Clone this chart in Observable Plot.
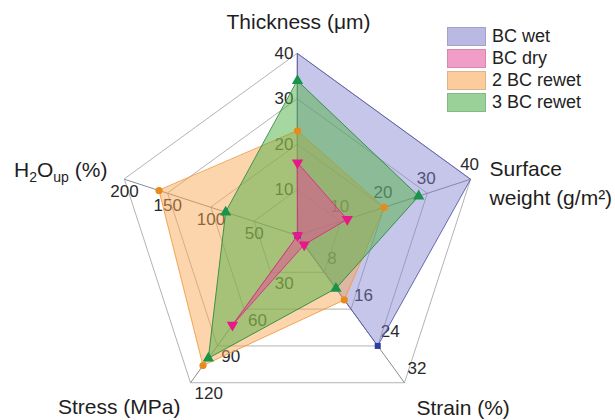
<!DOCTYPE html>
<html>
<head>
<meta charset="utf-8">
<script src="https://cdn.jsdelivr.net/npm/d3@7"></script>
<script src="https://cdn.jsdelivr.net/npm/@observablehq/plot@0.6"></script>
<style>
  body { margin: 0; background: #fff; font-family: "Liberation Sans", Arial, sans-serif; }
  #chart { position: relative; width: 615px; height: 420px; overflow: hidden; }
  .legend { position: absolute; left: 447px; top: 25px; font-size: 18px; color: #222; }
  .legend .row { display: flex; align-items: center; height: 22px; }
  .legend .sw { width: 39px; height: 19px; margin-right: 6px; box-sizing: border-box; border: 1px solid rgba(0,0,0,0.12); }
</style>
</head>
<body>
<div id="chart"></div>
<script>
// Radar axes, clockwise from the top
const axisTitles = ["Thickness (μm)", "Surface\nweight (g/m²)", "Strain (%)", "Stress (MPa)", "H2Oup (%)"];
const axisMax = [40, 40, 32, 120, 200];
const axisTicks = [
  [10, 20, 30, 40],
  [10, 20, 30, 40],
  [8, 16, 24, 32],
  [30, 60, 90, 120],
  [50, 100, 150, 200]
];

// Samples and their values on each axis
const seriesNames = ["BC wet", "BC dry", "2 BC rewet", "3 BC rewet"];
const bcWet     = [40, 40, 24, 0, 0];
const bcDry     = [16, 11.5, 2, 73, 0];
const bc2Rewet  = [23, 20, 14, 106, 160];
const bc3Rewet  = [34, 28, 11.5, 100, 83];
const seriesValues = [bcWet, bcDry, bc2Rewet, bc3Rewet];

// Look of each sample
const swatch = ["#b9b9e3", "#f29cc8", "#fdcc9c", "#99d199"];
const fills  = ["#8080d2", "#e54a95", "#f9a751", "#4fb043"];
const fillOp = [0.45, 0.5, 0.48, 0.5];
const lines  = ["#5a5aa8", "#dd2a86", "#f29a44", "#2f8a3e"];
const marks  = ["#2b3fa0", "#e8178a", "#e98b1c", "#17944a"];
const drawOrder = [0, 2, 3, 1];

const W = 615, H = 420, R = 182, CX = 297, CY = 235;
const nAxes = axisTitles.length;
const angle = i => Math.PI / 2 - (2 * Math.PI * i) / nAxes;
const at = (i, f) => ({x: f * Math.cos(angle(i)), y: f * Math.sin(angle(i))});

// Grid rings (4 levels) and spokes
const rings = [];
for (let k = 1; k <= 4; k++) for (let i = 0; i < nAxes; i++) rings.push({ring: k, ...at(i, k / 4)});
const spokes = d3.range(nAxes).map(i => ({i, ...at(i, 1)}));

// Tick labels
const tickRows = [];
axisTicks.forEach((ticks, i) => ticks.forEach(t => tickRows.push({i, label: String(t), ...at(i, t / axisMax[i])})));
const tickStyle = [
  {textAnchor: "end", dx: -4, dy: 0},
  {textAnchor: "middle", dx: -1, dy: -15},
  {textAnchor: "start", dx: 3, dy: -14},
  {textAnchor: "start", dx: 4, dy: 11},
  {textAnchor: "middle", dx: 0, dy: 12}
];

// Series points
const seriesRows = seriesValues.map((vals, s) =>
  vals.map((v, i) => ({series: seriesNames[s], i, value: v, ...at(i, v / axisMax[i])})));

// Axis titles
const titleRows = axisTitles.map((t, i) => ({i, title: t, ...at(i, 1)}));
const titleStyle = [
  {textAnchor: "middle", lineAnchor: "bottom", dx: 1, dy: -25},
  {textAnchor: "start", lineAnchor: "top", dx: 19, dy: -24, lineHeight: 1.38},
  {textAnchor: "start", lineAnchor: "bottom", dx: 12, dy: 32},
  {textAnchor: "end", lineAnchor: "bottom", dx: -10, dy: 31},
  {textAnchor: "end", lineAnchor: "bottom", dx: -17, dy: -2}
];

const downTriangle = {
  draw(context, size) {
    const y = -Math.sqrt(size / (Math.sqrt(3) * 3));
    context.moveTo(0, -y * 2);
    context.lineTo(-Math.sqrt(3) * y, y);
    context.lineTo(Math.sqrt(3) * y, y);
    context.closePath();
  }
};
const symbols = ["square", downTriangle, "circle", "triangle"];
const radii = [3.4, 4.2, 3.6, 4.2];

const plot = Plot.plot({
  width: W,
  height: H,
  margin: 0,
  x: {type: "linear", domain: [-CX / R, (W - CX) / R], axis: null},
  y: {type: "linear", domain: [-(H - CY) / R, CY / R], axis: null},
  style: {fontFamily: "'Liberation Sans', Arial, sans-serif", background: "transparent"},
  marks: [
    Plot.line(rings, {x: "x", y: "y", z: "ring", curve: "linear-closed", stroke: "#b3b3b3", strokeWidth: 1}),
    Plot.link(spokes, {x1: 0, y1: 0, x2: "x", y2: "y", stroke: "#8c8c8c", strokeWidth: 1}),
    ...tickStyle.map((st, i) => Plot.text(tickRows.filter(d => d.i === i), {
      x: "x", y: "y", text: "label", fill: "#2a2a2a", fontSize: 17, ...st
    })),
    ...drawOrder.map(s => Plot.line(seriesRows[s], {
      x: "x", y: "y", curve: "linear-closed",
      fill: fills[s], fillOpacity: fillOp[s], stroke: lines[s], strokeWidth: 1, strokeOpacity: 0.9
    })),
    // markers sit on measured points inside the outer ring
    ...drawOrder.map(s => Plot.dot(seriesRows[s].filter(d => d.value < axisMax[d.i]), {
      x: "x", y: "y", symbol: symbols[s], r: radii[s], fill: marks[s], stroke: "none"
    })),
    ...titleStyle.map((st, i) => Plot.text(titleRows.filter(d => d.i === i), {
      x: "x", y: "y", text: "title", fill: "#1e1e1e", fontSize: 21,
      className: i === 4 ? "h2o-title" : undefined, ...st
    }))
  ]
});

// Subscripts in the water-uptake title
d3.select(plot).selectAll(".h2o-title text").each(function () {
  this.innerHTML = 'H<tspan dy="5" font-size="14">2</tspan><tspan dy="-5">O</tspan>' +
    '<tspan dy="5" font-size="14">up</tspan><tspan dy="-5"> (%)</tspan>';
});

const chart = document.getElementById("chart");
chart.appendChild(plot);

// Legend
const legend = document.createElement("div");
legend.className = "legend";
seriesNames.forEach((name, s) => {
  const row = document.createElement("div");
  row.className = "row";
  const sw = document.createElement("div");
  sw.className = "sw";
  sw.style.background = swatch[s];
  const label = document.createElement("span");
  label.textContent = name;
  row.appendChild(sw);
  row.appendChild(label);
  legend.appendChild(row);
});
chart.appendChild(legend);
</script>
</body>
</html>
